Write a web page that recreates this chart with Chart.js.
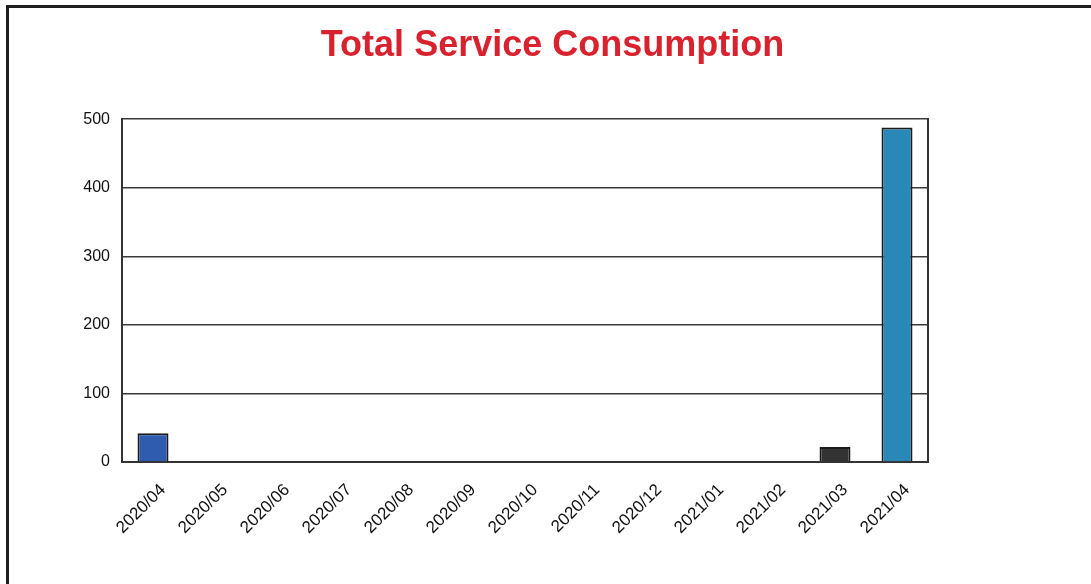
<!DOCTYPE html>
<html>
<head>
<meta charset="utf-8">
<script src="https://cdn.jsdelivr.net/npm/chart.js@4"></script>
<style>
  html, body { margin: 0; padding: 0; background: #fff; }
  #wrap { position: relative; width: 1091px; height: 584px; overflow: hidden; }
  #frame { position: absolute; left: 6px; top: 5px; width: 1200px; height: 700px;
           border-top: 3px solid #1e1e1e; border-left: 3px solid #1e1e1e; }
  canvas { position: absolute; left: 0; top: 0; }
</style>
</head>
<body>
<div id="wrap">
  <div id="frame"></div>
  <canvas id="grafico" width="1091" height="584"></canvas>
</div>
<script>
const meses = ['2020/04', '2020/05', '2020/06', '2020/07', '2020/08', '2020/09', '2020/10',
               '2020/11', '2020/12', '2021/01', '2021/02', '2021/03', '2021/04'];
const consumo = [42, 0, 0, 0, 0, 0, 0, 0, 0, 0, 0, 22, 488];
const coresBarras = ['#2f5cae', '#2f5cae', '#2f5cae', '#2f5cae', '#2f5cae', '#2f5cae', '#2f5cae',
                     '#2f5cae', '#2f5cae', '#2f5cae', '#2f5cae', '#333333', '#2a88b8'];
const yTicks = [0, 100, 200, 300, 400, 500];

const fonte = "'Liberation Sans', Arial, sans-serif";
const ctx = document.getElementById('grafico').getContext('2d');

const grafico = new Chart(ctx, {
    type: 'bar',
    data: {
        labels: meses,
        datasets: [{
            label: 'Total Service Consumption',
            data: consumo,
            backgroundColor: coresBarras,
            borderColor: '#1c1c1c',
            borderWidth: 2,
            categoryPercentage: 1,
            barPercentage: 0.5
        }]
    },
    options: {
        responsive: false,
        animation: false,
        layout: { padding: { left: 14, right: 0, top: 0, bottom: 0 } },
        plugins: {
            legend: { display: false },
            tooltip: { enabled: false },
            title: {
                display: true,
                text: 'Total Service Consumption',
                color: '#d8232f',
                font: { family: fonte, size: 36, weight: 'bold' },
                padding: { top: 24, bottom: 52 }
            }
        },
        scales: {
            x: {
                grid: { display: false },
                border: { display: true, color: '#333', width: 2 },
                ticks: {
                    color: '#111',
                    font: { family: fonte, size: 17 },
                    maxRotation: 45,
                    minRotation: 45,
                    padding: 10,
                    labelOffset: 10,
                    autoSkip: false
                },
                afterFit: s => { s.height = 122; }
            },
            y: {
                min: 0,
                max: 500,
                afterBuildTicks: s => { s.ticks = yTicks.map(v => ({ value: v })); },
                grid: { color: '#3a3a3a', lineWidth: 1.6, drawTicks: false },
                border: { display: true, color: '#333', width: 2 },
                ticks: {
                    color: '#111',
                    font: { family: fonte, size: 16 },
                    padding: 12
                },
                afterFit: s => { s.width = 108; }
            },
            y2: {
                position: 'right',
                min: 0,
                max: 500,
                grid: { display: false, drawTicks: false },
                border: { display: true, color: '#333', width: 2 },
                ticks: { display: false },
                afterFit: s => { s.width = 163; }
            }
        }
    }
});
</script>
</body>
</html>
